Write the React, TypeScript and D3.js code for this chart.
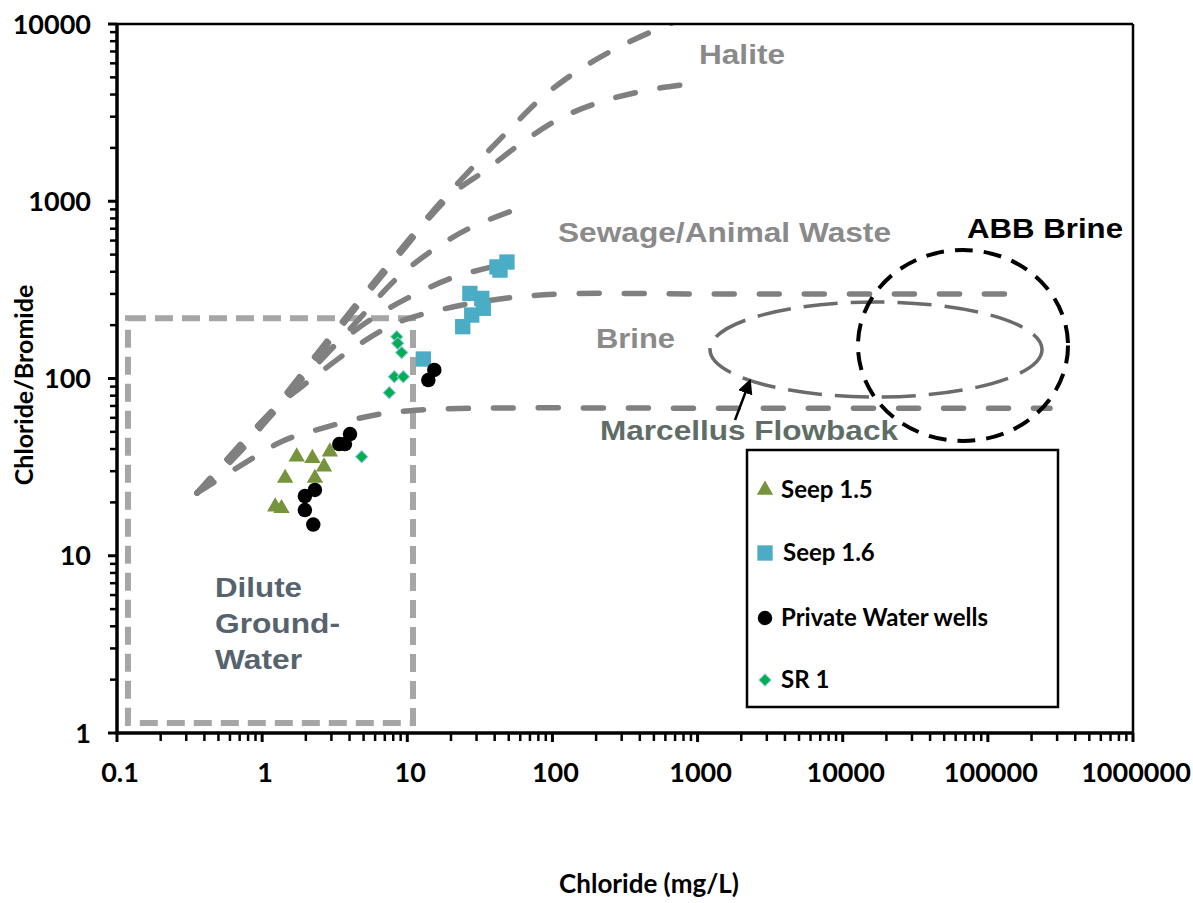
import * as d3 from "d3";

const W = 1193;
const H = 903;
const PLOT = { left: 117, right: 1133, top: 24, bottom: 733 };

// axis ticks
const xTickValues = [0.1, 1, 10, 100, 1000, 10000, 100000, 1000000];
const xTickLabels = ["0.1", "1", "10", "100", "1000", "10000", "100000", "1000000"];
const yTickValues = [1, 10, 100, 1000, 10000];
const yTickLabels = ["1", "10", "100", "1000", "10000"];

// samples: [chloride mg/L, Cl/Br]
const seep15: [number, number][] = [
  [1.73, 36.2], [2.22, 35.5], [2.93, 38.6], [2.67, 31.8],
  [1.44, 27.4], [2.31, 27.4], [1.23, 18.9], [1.36, 18.5],
];
const seep16: [number, number][] = [
  [12.9, 128.8], [24.1, 196], [27.8, 228], [27.0, 302], [32.6, 283],
  [33.4, 249], [41.5, 426], [43.5, 409], [48.6, 454],
];
const privateWells: [number, number][] = [
  [4.03, 48.6], [3.72, 42.7], [3.4, 42.7], [2.31, 23.5], [1.97, 21.7],
  [1.97, 18.1], [2.25, 15.0], [15.35, 111.7], [13.96, 98.0],
];
const sr1: [number, number][] = [
  [8.46, 172], [8.59, 158], [9.15, 140], [8.14, 102.4], [9.39, 102.4],
  [7.52, 83.2], [4.85, 36.2],
];

// mixing curves
const haliteUpper: [number, number][] = [
  [0.356, 22.6], [1.17, 65.6], [2.8, 163], [7.25, 431], [18.8, 1084],
  [51.8, 2590], [88.9, 3976], [160, 5647], [316, 7713], [640, 10000], [760, 10600],
];
const haliteLower: [number, number][] = [
  [0.356, 22.6], [1.23, 65.6], [2.93, 163], [7.6, 431], [19.7, 1071],
  [34.9, 1501], [62.7, 2160], [118, 2988], [238, 3726], [501, 4298], [1039, 4647],
];
const sewageUpper: [number, number][] = [
  [0.356, 22.6], [0.704, 38.5], [1.51, 81.8], [2.71, 134], [4.72, 219],
  [8.23, 359], [15.0, 531], [27.9, 716], [67.9, 952],
];
const sewageLower: [number, number][] = [
  [0.356, 22.6], [1.17, 65.6], [2.5, 131], [3.72, 169], [5.54, 214],
  [10.1, 285], [20.3, 369], [40.2, 431],
];
const brineUpper: [number, number][] = [
  [0.356, 22.6], [1.17, 65.6], [1.82, 88.4], [2.43, 106], [4.29, 149],
  [8.5, 206], [17.9, 247], [43.5, 281], [113, 300], [1000, 300], [172000, 300],
];
const brineLower: [number, number][] = [
  [0.356, 22.6], [0.762, 33.4], [1.39, 44.4], [2.8, 53.3], [6.0, 62.3],
  [12.2, 66.4], [31.7, 68], [1000, 68], [268000, 68],
];

// regions: [[xMin, yMin], [xMax, yMax]]
const diluteBox: [number, number][] = [[0.119, 1.14], [10.95, 219]];
const flowbackRegion: [number, number][] = [[1218, 78.6], [236200, 270]];
const abbRegion: [number, number][] = [[12740, 44.4], [356700, 531]];
const flowbackArrow: [number, number][] = [[1811, 58.3], [2262, 94.3]];

const AXIS_FONT = "Lato, 'Noto Sans', sans-serif";
const NOTE_FONT = "'Liberation Sans', Arial, sans-serif";

export default function App() {
  const x = d3.scaleLog().domain([0.1, 1e6]).range([PLOT.left, PLOT.right]);
  const y = d3.scaleLog().domain([1, 1e4]).range([PLOT.bottom, PLOT.top]);

  const isMajor = (v: number) => Math.abs(Math.log10(v) - Math.round(Math.log10(v))) < 1e-9;
  const xMinor = x.ticks().filter((v) => !isMajor(v));
  const yMinor = y.ticks().filter((v) => !isMajor(v));

  const line = d3
    .line<[number, number]>()
    .x((d) => x(d[0]))
    .y((d) => y(d[1]))
    .curve(d3.curveCatmullRom.alpha(0.5));

  const curves = [haliteUpper, haliteLower, sewageUpper, sewageLower, brineUpper, brineLower];

  const ellipseOf = (r: [number, number][]) => {
    const x0 = x(r[0][0]);
    const x1 = x(r[1][0]);
    const y0 = y(r[1][1]);
    const y1 = y(r[0][1]);
    return { cx: (x0 + x1) / 2, cy: (y0 + y1) / 2, rx: (x1 - x0) / 2, ry: (y1 - y0) / 2 };
  };
  const brineEll = ellipseOf(flowbackRegion);
  const abbEll = ellipseOf(abbRegion);

  const tri = d3.symbol(d3.symbolTriangle, 115)()!;
  const sq = d3.symbol(d3.symbolSquare, 235)()!;
  const circ = d3.symbol(d3.symbolCircle, 165)()!;
  const dia = d3.symbol(d3.symbolSquare, 76)()!;

  const legend = [
    { label: "Seep 1.5", path: tri, fill: "#77933c", stroke: "none", rot: 0, tx: 781 },
    { label: "Seep 1.6", path: sq, fill: "#4bacc6", stroke: "none", rot: 0, tx: 783 },
    { label: "Private Water wells", path: circ, fill: "#000", stroke: "none", rot: 0, tx: 781 },
    { label: "SR 1", path: dia, fill: "#00b050", stroke: "#9dc3e6", rot: 45, tx: 781 },
  ];
  const legendY = [490, 553, 618, 680];

  return (
    <svg
      width={W}
      height={H}
      viewBox={`0 0 ${W} ${H}`}
      style={{ position: "absolute", left: 0, top: 0, background: "#fff" }}
    >
      <defs>
        <marker id="arrowHead" viewBox="0 0 10 10" refX="7" refY="5" markerWidth="6" markerHeight="6" orient="auto">
          <path d="M0,0 L10,5 L0,10 z" fill="#000" />
        </marker>
        <clipPath id="plotClip">
          <rect x={PLOT.left} y={PLOT.top} width={PLOT.right - PLOT.left} height={PLOT.bottom - PLOT.top} />
        </clipPath>
      </defs>

      {/* dilute groundwater box */}
      <rect
        x={x(diluteBox[0][0])}
        y={y(diluteBox[1][1])}
        width={x(diluteBox[1][0]) - x(diluteBox[0][0])}
        height={y(diluteBox[0][1]) - y(diluteBox[1][1])}
        fill="none"
        stroke="#a6a6a6"
        strokeWidth={6}
        strokeDasharray="18 9"
      />

      {/* mixing curves */}
      <g clipPath="url(#plotClip)">
        {curves.map((c, i) => (
          <path
            key={i}
            d={line(c) ?? ""}
            fill="none"
            stroke="#808080"
            strokeWidth={5.5}
            strokeLinecap="round"
            strokeDasharray="20 25"
          />
        ))}
      </g>

      {/* flowback and ABB regions */}
      <ellipse {...brineEll} fill="none" stroke="#6b6b6b" strokeWidth={3.5} strokeDasharray="34 13" />
      <ellipse {...abbEll} fill="none" stroke="#000" strokeWidth={4} strokeDasharray="18 11" />

      <line
        x1={x(flowbackArrow[0][0])}
        y1={y(flowbackArrow[0][1])}
        x2={x(flowbackArrow[1][0])}
        y2={y(flowbackArrow[1][1])}
        stroke="#000"
        strokeWidth={2.5}
        markerEnd="url(#arrowHead)"
      />

      {/* points */}
      {seep15.map((d, i) => (
        <path key={`a${i}`} d={tri} transform={`translate(${x(d[0])},${y(d[1])})`} fill="#77933c" />
      ))}
      {seep16.map((d, i) => (
        <path key={`b${i}`} d={sq} transform={`translate(${x(d[0])},${y(d[1])})`} fill="#4bacc6" />
      ))}
      {privateWells.map((d, i) => (
        <path key={`c${i}`} d={circ} transform={`translate(${x(d[0])},${y(d[1])})`} fill="#000" />
      ))}
      {sr1.map((d, i) => (
        <path
          key={`d${i}`}
          d={dia}
          transform={`translate(${x(d[0])},${y(d[1])}) rotate(45)`}
          fill="#00b050"
          stroke="#9dc3e6"
          strokeWidth={1}
        />
      ))}

      {/* annotations */}
      <g fontFamily={NOTE_FONT} fontWeight="bold" fontSize={28}>
        <text x={699} y={64} fill="#8a8a8a" textLength={86} lengthAdjust="spacingAndGlyphs">Halite</text>
        <text x={558} y={242} fill="#8a8a8a" textLength={333} lengthAdjust="spacingAndGlyphs">Sewage/Animal Waste</text>
        <text x={596} y={348} fill="#8a8a8a" textLength={79} lengthAdjust="spacingAndGlyphs">Brine</text>
        <text x={600} y={440} fill="#5e6e66" textLength={298} lengthAdjust="spacingAndGlyphs">Marcellus Flowback</text>
        <text x={967} y={238} fill="#000" textLength={156} lengthAdjust="spacingAndGlyphs">ABB Brine</text>
        <text x={215} y={597} fill="#56636f" textLength={87} lengthAdjust="spacingAndGlyphs">Dilute</text>
        <text x={215} y={633} fill="#56636f" textLength={125} lengthAdjust="spacingAndGlyphs">Ground-</text>
        <text x={215} y={669} fill="#56636f" textLength={87} lengthAdjust="spacingAndGlyphs">Water</text>
      </g>

      {/* frame */}
      <line x1={PLOT.left} x2={PLOT.right} y1={PLOT.top} y2={PLOT.top} stroke="#000" strokeWidth={2.5} />
      <line x1={PLOT.right} x2={PLOT.right} y1={PLOT.top} y2={PLOT.bottom} stroke="#000" strokeWidth={2.5} />

      {/* axes */}
      <g stroke="#000">
        <line x1={PLOT.left} x2={PLOT.left} y1={PLOT.top} y2={PLOT.bottom + 1.5} strokeWidth={3.5} />
        <line x1={PLOT.left - 1.5} x2={PLOT.right} y1={PLOT.bottom} y2={PLOT.bottom} strokeWidth={3.5} />
        {yMinor.map((v) => (
          <line key={`ym${v}`} x1={PLOT.left - 7} x2={PLOT.left} y1={y(v)} y2={y(v)} strokeWidth={2.5} />
        ))}
        {yTickValues.map((v) => (
          <line key={`yM${v}`} x1={PLOT.left - 9} x2={PLOT.left} y1={y(v)} y2={y(v)} strokeWidth={3} />
        ))}
        {xMinor.map((v) => (
          <line key={`xm${v}`} x1={x(v)} x2={x(v)} y1={PLOT.bottom} y2={PLOT.bottom + 8} strokeWidth={2.5} />
        ))}
        {xTickValues.map((v) => (
          <line key={`xM${v}`} x1={x(v)} x2={x(v)} y1={PLOT.bottom} y2={PLOT.bottom + 9} strokeWidth={3} />
        ))}
      </g>

      <g fontFamily={AXIS_FONT} fontWeight="bold" fontSize={27} fill="#000">
        {xTickValues.map((v, i) => (
          <text key={`xl${v}`} x={x(v) + 3} y={782} textAnchor="middle">
            {xTickLabels[i]}
          </text>
        ))}
        {yTickValues.map((v, i) => (
          <text key={`yl${v}`} x={91} y={y(v)} dy="0.36em" textAnchor="end">
            {yTickLabels[i]}
          </text>
        ))}
      </g>

      <text x={649} y={893} textAnchor="middle" fontFamily={AXIS_FONT} fontWeight="bold" fontSize={26}>
        Chloride (mg/L)
      </text>
      <text
        transform={`translate(33,385) rotate(-90)`}
        textAnchor="middle"
        fontFamily={AXIS_FONT}
        fontWeight="bold"
        fontSize={25}
      >
        Chloride/Bromide
      </text>

      {/* legend */}
      <rect x={747} y={450} width={311} height={257} fill="#fff" stroke="#000" strokeWidth={2.5} />
      {legend.map((l, i) => (
        <g key={l.label}>
          <path
            d={l.path}
            transform={`translate(765,${legendY[i]}) rotate(${l.rot})`}
            fill={l.fill}
            stroke={l.stroke}
            strokeWidth={1}
          />
          <text
            x={l.tx}
            y={legendY[i] + 8}
            fontFamily={AXIS_FONT}
            fontWeight="bold"
            fontSize={24}
            fill="#000"
          >
            {l.label}
          </text>
        </g>
      ))}
    </svg>
  );
}
